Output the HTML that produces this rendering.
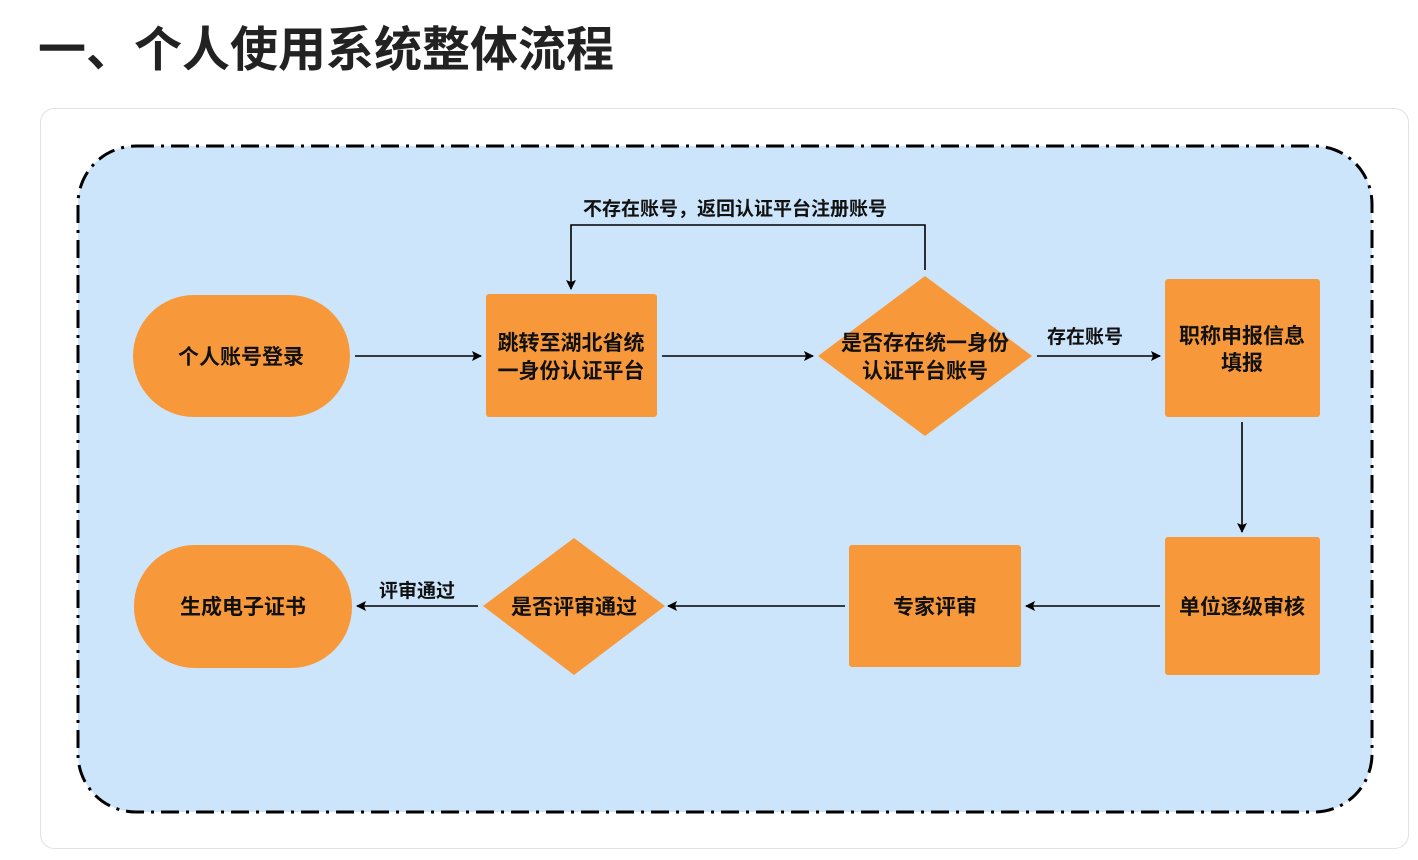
<!DOCTYPE html>
<html><head><meta charset="utf-8"><style>
body{margin:0;width:1418px;height:860px;background:#fff;overflow:hidden;font-family:"Liberation Sans","Noto Sans CJK SC",sans-serif;}
</style></head><body>
<svg width="1418" height="860" xmlns="http://www.w3.org/2000/svg" style="position:absolute;left:0;top:0">
<defs><marker id="a" markerWidth="10" markerHeight="10" refX="9" refY="5" orient="auto" markerUnits="userSpaceOnUse"><path d="M0,0 L10,5 L0,10 L2,5 z" fill="#000"/></marker></defs>
<text x="38" y="66" font-size="48" font-weight="bold" fill="#222" font-family="Liberation Sans,Noto Sans CJK SC,sans-serif">一、个人使用系统整体流程</text>
<rect x="40.5" y="108.5" width="1368" height="740" rx="14" fill="#fff" stroke="#e2e2e2"/>
<rect x="78" y="146" width="1294" height="666" rx="58" fill="#CCE5FA" stroke="#000" stroke-width="3" stroke-dasharray="18 7 3 7"/>
<g fill="#F7993A">
<rect x="133" y="295" width="217" height="122" rx="61"/>
<rect x="486" y="294" width="171" height="123" rx="3"/>
<polygon points="925,276 1032,356 925,436 818,356"/>
<rect x="1165" y="279" width="155" height="138" rx="3"/>
<rect x="1165" y="537" width="155" height="138" rx="3"/>
<rect x="849" y="545" width="172" height="122" rx="3"/>
<polygon points="574,538 665,606 574,675 483,606"/>
<rect x="134" y="545" width="218" height="123" rx="61"/>
</g>
<g font-size="21" font-weight="bold" fill="#111" text-anchor="middle" font-family="Liberation Sans,Noto Sans CJK SC,sans-serif">
<text x="241" y="364">个人账号登录</text>
<text x="571" y="350">跳转至湖北省统</text>
<text x="571" y="378">一身份认证平台</text>
<text x="925" y="350">是否存在统一身份</text>
<text x="925" y="378">认证平台账号</text>
<text x="1242" y="343">职称申报信息</text>
<text x="1242" y="370">填报</text>
<text x="1242" y="614">单位逐级审核</text>
<text x="935" y="614">专家评审</text>
<text x="574" y="614">是否评审通过</text>
<text x="243" y="614">生成电子证书</text>
</g>
<g stroke="#000" stroke-width="1.6" fill="none" marker-end="url(#a)">
<line x1="355" y1="356" x2="481" y2="356"/>
<line x1="662" y1="356" x2="813" y2="356"/>
<line x1="1037" y1="356" x2="1160" y2="356"/>
<line x1="1242" y1="422" x2="1242" y2="532"/>
<line x1="1160" y1="606" x2="1026" y2="606"/>
<line x1="845" y1="606" x2="668" y2="606"/>
<line x1="478" y1="606" x2="357" y2="606"/>
<polyline points="925,270 925,225 571,225 571,289"/>
</g>
<g font-size="19" font-weight="bold" fill="#111" text-anchor="middle" font-family="Liberation Sans,Noto Sans CJK SC,sans-serif">
<text x="735" y="215">不存在账号，返回认证平台注册账号</text>
<text x="1085" y="343">存在账号</text>
<text x="417" y="597">评审通过</text>
</g>
</svg>
</body></html>
